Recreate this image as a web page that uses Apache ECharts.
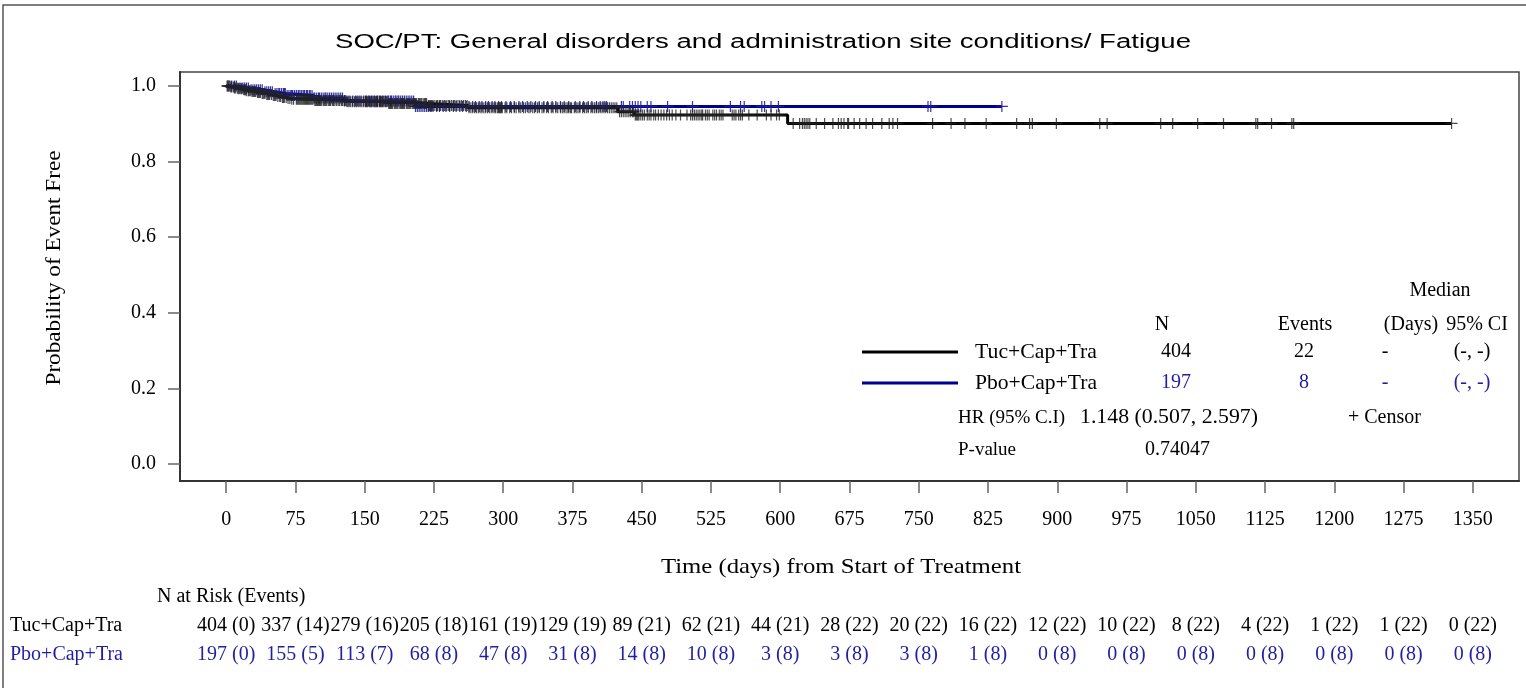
<!DOCTYPE html>
<html><head><meta charset="utf-8">
<script src="https://cdn.jsdelivr.net/npm/echarts@6/dist/echarts.min.js"></script>
<style>html,body{margin:0;padding:0;background:#fff}#c{width:1526px;height:688px}</style>
</head><body><div id="c"></div>
<script>
const titleText = 'SOC/PT: General disorders and administration site conditions/ Fatigue';
const xTicks = [0,75,150,225,300,375,450,525,600,675,750,825,900,975,1050,1125,1200,1275,1350];
const yTicks = [0,0.2,0.4,0.6,0.8,1.0];
const groups = ['Tuc+Cap+Tra','Pbo+Cap+Tra'];

// KM step points [day, survival]
const tucSteps = [[0,1.0],[4,0.9975],[9,0.995],[13,0.9926],[18,0.9901],[22,0.9876],[27,0.9851],[33,0.9826],[38,0.9800],[44,0.9775],[50,0.9750],[55,0.9724],[61,0.9698],[66,0.9672],[70,0.9646],[95,0.9615],[130,0.958],[175,0.9535],[218,0.9485],[262,0.9425],[424,0.932],[442,0.923],[608,0.901],[1327,0.901]];
const pboSteps = [[0,1.0],[12,0.995],[25,0.990],[40,0.985],[52,0.980],[65,0.975],[95,0.968],[128,0.960],[205,0.946],[840,0.946]];

// censored times (days)
const tucCensor = [1,2,3,5,6,8,9,10,12,13,14,16,17,19,20,21,22,24,25,26,28,29,30,31,32,34,35,36,37,39,40,41,42,44,45,46,47,49,51,52,53,54,56,58,59,61,62,63,65,67,69,71,73,
76,77,78,79,80,81,82,83,84,85,86,87,88,89,90,91,92,93,94,96,97,98,99,100,101,102,103,105,106,107,108,109,111,112,113,115,116,117,119,120,122,123,125,126,128,129,131,133,135,137,139,141,143,145,147,149,
151,152,153,155,156,157,158,160,161,162,163,164,166,167,168,169,170,172,173,174,176,177,178,179,180,182,183,184,185,186,188,189,190,191,192,193,195,196,197,198,199,200,202,203,204,205,206,208,209,210,211,212,214,215,216,217,219,220,221,222,223,224,
226,228,229,231,232,234,236,237,239,241,242,244,246,247,249,251,253,255,257,259,261,263,265,267,269,271,273,275,277,279,281,283,285,287,289,291,292,294,295,296,297,298,299,
302,304,307,309,312,314,317,319,322,324,327,329,332,334,337,339,342,344,347,349,352,354,357,359,362,364,366,368,370,371,373,374,
377,379,381,383,386,388,390,392,395,397,399,401,403,405,407,409,411,413,415,417,419,421,423,426,428,430,432,434,436,438,440,441,443,444,445,446,447,449,
451,453,456,458,460,463,465,468,471,474,477,480,483,487,492,499,503,505,507,509,511,513,515,516,519,521,523,
527,529,531,534,536,538,548,550,552,555,557,559,566,575,585,590,596,599,
614,621,624,626,628,630,632,639,648,657,663,666,669,673,674,
680,686,693,700,710,718,722,727,
765,785,800,823,856,870,873,899,946,954,1012,1025,1052,1080,1115,1117,1132,1154,1156,1327];
const pboCensor = [2,4,6,9,11,14,16,18,20,22,24,27,29,31,33,35,37,39,42,44,46,48,50,53,55,57,58,60,62,63,64,66,68,70,71,72,74,
76,78,79,81,82,84,85,87,88,90,91,93,95,96,98,100,101,103,105,107,108,110,112,114,116,118,120,122,124,126,128,130,132,134,137,140,142,144,146,149,
151,152,154,155,157,158,160,161,163,164,166,167,169,170,172,173,175,176,178,179,181,183,184,186,187,189,191,193,195,197,199,201,203,205,207,209,211,213,215,217,219,221,222,224,
228,231,235,238,242,246,249,253,256,260,263,267,270,274,277,281,284,288,291,295,298,
303,308,312,317,321,326,330,335,339,344,348,353,357,362,366,371,
378,383,387,392,396,401,405,408,410,412,428,430,437,440,443,446,449,
456,460,478,505,546,557,561,580,583,590,598,760,763,840];

const tucRisk = ['404 (0)','337 (14)','279 (16)','205 (18)','161 (19)','129 (19)','89 (21)','62 (21)','44 (21)','28 (22)','20 (22)','16 (22)','12 (22)','10 (22)','8 (22)','4 (22)','1 (22)','1 (22)','0 (22)'];
const pboRisk = ['197 (0)','155 (5)','113 (7)','68 (8)','47 (8)','31 (8)','14 (8)','10 (8)','3 (8)','3 (8)','3 (8)','1 (8)','0 (8)','0 (8)','0 (8)','0 (8)','0 (8)','0 (8)','0 (8)'];

const statHeader = ['N','Events','(Days)','95% CI'];
const tucStats = ['404','22','-','(-, -)'];
const pboStats = ['197','8','-','(-, -)'];
const hrLabel = 'HR (95% C.I)';
const hrValue = '1.148 (0.507, 2.597)';
const pLabel = 'P-value';
const pValue = '0.74047';

const BLACK = '#000000';
const BLUE = '#000090';
const BLUE_TXT = '#1f1f9f';
const SERIF = '"Liberation Serif","Times New Roman",serif';
const SANS = '"Liberation Sans",Arial,sans-serif';

function survAt(steps, t){ let v = steps[0][1]; for (const s of steps){ if (s[0] <= t) v = s[1]; else break; } return v; }
const tucMarks = tucCensor.map(t => [t, survAt(tucSteps, t)]);
const pboMarks = pboCensor.map(t => [t, survAt(pboSteps, t)]);

const plusSym = 'path://M4.5,0H5.5V4.5H10V5.5H5.5V10H4.5V5.5H0V4.5H4.5Z';

const chart = echarts.init(document.getElementById('c'), null, {renderer:'canvas'});
chart.setOption({
  animation:false,
  backgroundColor:'#fff',
  grid:{left:180, top:72, width:1339, height:409, show:true, borderColor:'#444', borderWidth:1.5, backgroundColor:'transparent'},
  xAxis:{type:'value', min:-50, max:1400,
    axisLine:{show:true, onZero:false, lineStyle:{color:'#333', width:2}},
    axisTick:{show:true, inside:false, length:12, customValues:xTicks, lineStyle:{color:'#666', width:1.5}},
    axisLabel:{show:true, customValues:xTicks, margin:29, color:'#000', fontFamily:SERIF, fontSize:20, formatter:v=>String(v)},
    splitLine:{show:false}},
  yAxis:{type:'value', min:-0.045, max:1.037,
    axisLine:{show:true, onZero:false, lineStyle:{color:'#333', width:2}},
    axisTick:{show:true, inside:false, length:12, customValues:yTicks, lineStyle:{color:'#666', width:1.5}},
    axisLabel:{show:true, customValues:yTicks, margin:24, color:'#000', fontFamily:SERIF, fontSize:20, formatter:v=>v.toFixed(1)},
    splitLine:{show:false}},
  series:[
    {type:'line', name:groups[1], data:pboSteps, step:'end', showSymbol:false, lineStyle:{color:BLUE, width:3}, z:2},
    {type:'line', name:groups[0], data:tucSteps, step:'end', showSymbol:false, lineStyle:{color:BLACK, width:3}, z:3},
    {type:'scatter', data:pboMarks, symbol:plusSym, symbolSize:[12,11], itemStyle:{color:'#1c1c9c', opacity:0.9}, z:4},
    {type:'scatter', data:tucMarks, symbol:plusSym, symbolSize:[12,11], itemStyle:{color:'#222', opacity:0.8}, z:5}
  ]
});

const mctx = document.createElement('canvas').getContext('2d');
function textW(text, font){ mctx.font = font; return mctx.measureText(text).width; }
function txt(text, x, y, opts){
  opts = opts || {};
  const font = (opts.size||20)+'px '+(opts.family||SERIF);
  const sx = opts.width ? opts.width / textW(text, font) : 1;
  return {type:'text', x:x, y:y, rotation:opts.rotation||0, scaleX:sx, z:100,
    style:{text:text, fill:opts.color||'#000', font:font, align:opts.align||'left', verticalAlign:'middle'}};
}
const g = [];
// outer frame
g.push({type:'polyline', shape:{points:[[3,700],[3,5],[1530,5]]}, style:{stroke:'#555', lineWidth:1.5, fill:null}});
g.push(txt(titleText, 763, 42, {family:SANS, size:20, align:'center', width:856}));
g.push(txt('Probability of Event Free', 54, 268, {size:22, align:'center', rotation:Math.PI/2, width:235}));
g.push(txt('Time (days) from Start of Treatment', 841, 567, {size:22, align:'center', width:360}));
// legend
g.push({type:'line', shape:{x1:862,y1:352,x2:958,y2:352}, style:{stroke:BLACK, lineWidth:3}});
g.push({type:'line', shape:{x1:862,y1:383,x2:958,y2:383}, style:{stroke:BLUE, lineWidth:3}});
g.push(txt(groups[0], 975, 352, {size:21, width:122}));
g.push(txt(groups[1], 975, 383, {size:21, width:122}));
g.push(txt('Median', 1440, 291, {align:'center'}));
const hx = [1162, 1305, 1411, 1477];
const vx = [1176, 1304, 1385, 1472];
statHeader.forEach((h,i)=>g.push(txt(h, hx[i], 325, {align:'center'})));
tucStats.forEach((h,i)=>g.push(txt(h, vx[i], 352, {align:'center'})));
pboStats.forEach((h,i)=>g.push(txt(h, vx[i], 383, {align:'center', color:BLUE_TXT})));
g.push(txt(hrLabel, 958, 418, {size:19}));
g.push(txt(hrValue, 1080, 418, {size:20, width:178}));
g.push(txt('+ Censor', 1348, 418, {size:20}));
g.push(txt(pLabel, 958, 450, {size:19}));
g.push(txt(pValue, 1145, 450, {size:20}));
// at risk table
g.push(txt('N at Risk (Events)', 157, 597, {size:20}));
g.push(txt(groups[0], 10, 626, {size:20}));
g.push(txt(groups[1], 10, 655, {size:20, color:BLUE_TXT}));
xTicks.forEach((t,i)=>{
  const px = chart.convertToPixel({xAxisIndex:0}, t);
  g.push(txt(tucRisk[i], px, 626, {size:20, align:'center'}));
  g.push(txt(pboRisk[i], px, 655, {size:20, align:'center', color:BLUE_TXT}));
});
chart.setOption({graphic:g});
</script>
</body></html>
